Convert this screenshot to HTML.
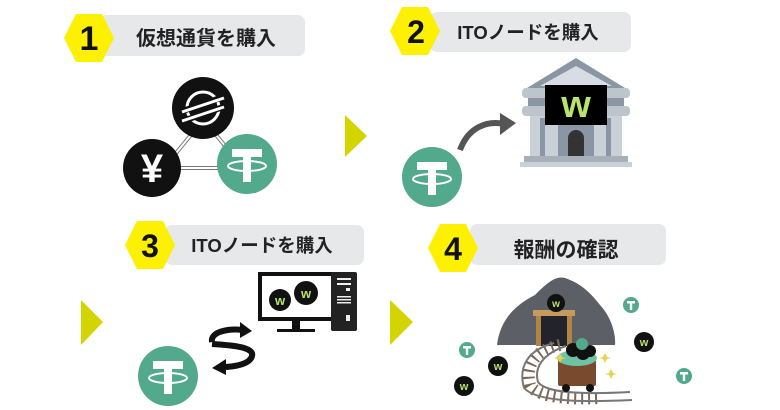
<!DOCTYPE html>
<html><head><meta charset="utf-8"><style>
html,body{margin:0;padding:0;background:#fff;}
svg{display:block;}
.t{font-family:"Liberation Sans","Noto Sans CJK JP",sans-serif;font-weight:bold;fill:#222;}
.n{font-family:"Liberation Sans",sans-serif;font-weight:900;fill:#111;}
.w{font-family:"Liberation Sans",sans-serif;font-weight:bold;fill:#b7e46a;}
</style></head><body>
<svg width="780" height="410" viewBox="0 0 780 410" xmlns="http://www.w3.org/2000/svg">
<defs>
<g id="teth">
<circle r="30" fill="#53a98b"/>
<rect x="-15" y="-15" width="30" height="8" fill="#fff"/>
<rect x="-4" y="-12" width="8" height="30" fill="#fff"/>
<ellipse cx="0" cy="2" rx="19" ry="5" fill="none" stroke="#fff" stroke-width="2"/>
</g>
<g id="tc">
<circle r="8" fill="#53a98b"/>
<rect x="-4" y="-4" width="8" height="2.5" fill="#fff"/>
<rect x="-1.2" y="-3" width="2.4" height="8" fill="#fff"/>
</g>
</defs>

<!-- Panel 1 -->
<rect x="100" y="15" width="205" height="41" rx="7" fill="#e7e8ea"/>
<polygon points="64,38 76,14 102,14 114,38 102,62 76,62" fill="#fdf000"/>
<text x="89" y="50" text-anchor="middle" class="n" font-size="34">1</text>
<text x="206" y="45" text-anchor="middle" class="t" font-size="20">仮想通貨を購入</text>
<g stroke="#777" stroke-width="4" fill="none"><line x1="195" y1="130" x2="172" y2="158"/><line x1="212" y1="130" x2="235" y2="158"/><line x1="176" y1="168" x2="222" y2="168"/></g>
<g stroke="#fff" stroke-width="2" fill="none"><line x1="195" y1="130" x2="172" y2="158"/><line x1="212" y1="130" x2="235" y2="158"/><line x1="176" y1="168" x2="222" y2="168"/></g>
<circle cx="203" cy="108" r="31" fill="#111"/>
<circle cx="203" cy="108" r="16" fill="none" stroke="#fff" stroke-width="3"/>
<g stroke="#111" stroke-width="6"><line x1="180" y1="112" x2="226" y2="96"/><line x1="180" y1="122" x2="226" y2="106"/></g>
<g stroke="#fff" stroke-width="3"><line x1="182" y1="112" x2="224" y2="98"/><line x1="182" y1="121" x2="224" y2="107"/></g>
<circle cx="152" cy="168" r="29" fill="#111"/>
<text x="152" y="182" text-anchor="middle" font-family="Liberation Sans,sans-serif" font-weight="900" font-size="40" fill="#fff">¥</text>
<use href="#teth" x="247" y="164"/>
<polygon points="345,115 367,136 345,157" fill="#d4d400"/>

<!-- Panel 2 -->
<rect x="430" y="12" width="201" height="40" rx="7" fill="#e7e8ea"/>
<polygon points="390,31 402,7 428,7 440,31 428,55 402,55" fill="#fdf000"/>
<text x="416" y="43" text-anchor="middle" class="n" font-size="32">2</text>
<text x="528" y="39" text-anchor="middle" class="t" font-size="18.5">ITOノードを購入</text>
<polygon points="576,58 527,88 625,88" fill="#8a96a3"/>
<polygon points="576,66 540,86 612,86" fill="#d7dde3"/>
<rect x="522" y="88" width="108" height="10" rx="4" fill="#bcc4cc"/>
<rect x="522" y="106" width="108" height="10" rx="4" fill="#bcc4cc"/>
<rect x="528" y="98" width="96" height="8" fill="#8a96a3"/>
<rect x="530" y="116" width="92" height="40" fill="#c9d0d7"/>
<g fill="#8a96a3"><rect x="540" y="118" width="5" height="38"/><rect x="606" y="118" width="5" height="38"/><rect x="558" y="118" width="5" height="38"/><rect x="589" y="118" width="5" height="38"/></g>
<rect x="563" y="124" width="26" height="32" fill="#8a96a3"/>
<path d="M568,156 V138 a8,8 0 0 1 16,0 V156 Z" fill="#333"/>
<rect x="524" y="156" width="104" height="6" fill="#a7b0b9"/>
<rect x="520" y="162" width="112" height="5" fill="#c9d0d7"/>
<rect x="545" y="85" width="62" height="40" fill="#000"/>
<text x="576" y="117" text-anchor="middle" font-family="Liberation Sans,sans-serif" font-weight="900" font-size="38" fill="#b7e46a">w</text>
<path d="M460,150 C468,128 486,120 505,124" fill="none" stroke="#555" stroke-width="6"/>
<polygon points="500,113 516,123 500,135" fill="#555"/>
<use href="#teth" x="432" y="177"/>

<!-- Panel 3 -->
<rect x="165" y="225" width="199" height="40" rx="7" fill="#e7e8ea"/>
<polygon points="125,245 137,221 163,221 175,245 163,269 137,269" fill="#fdf000"/>
<text x="150" y="257" text-anchor="middle" class="n" font-size="32">3</text>
<text x="262" y="252" text-anchor="middle" class="t" font-size="18.5">ITOノードを購入</text>
<polygon points="81,300 103,322 81,345" fill="#d4d400"/>
<rect x="258" y="272" width="78" height="49" fill="#111"/>
<rect x="262" y="276" width="70" height="41" fill="#fff"/>
<rect x="292" y="321" width="8" height="9" fill="#111"/>
<rect x="277" y="329" width="38" height="3" fill="#111"/>
<circle cx="280" cy="300" r="11" fill="#111"/><text x="280" y="305" text-anchor="middle" class="w" font-size="13">w</text>
<circle cx="306" cy="293" r="12" fill="#111"/><text x="306" y="298" text-anchor="middle" class="w" font-size="13">w</text>
<rect x="331" y="272" width="26" height="59" rx="2" fill="#222"/>
<g fill="#eee"><rect x="337" y="278" width="14" height="2"/><rect x="337" y="283" width="14" height="2"/><rect x="346" y="288" width="4" height="3"/><rect x="337" y="296" width="14" height="1.5"/><rect x="337" y="299" width="14" height="1.5"/><rect x="337" y="302" width="14" height="1.5"/><rect x="346" y="315" width="4" height="6"/></g>
<path d="M212,342 C210,332 228,328 243,330" fill="none" stroke="#111" stroke-width="6"/>
<polygon points="240,322 252,331 240,338" fill="#111"/>
<path d="M212,344 C225,345 255,346 252,356 C250,364 235,367 222,367" fill="none" stroke="#111" stroke-width="6"/>
<polygon points="226,359 212,368 226,375" fill="#111"/>
<use href="#teth" x="168" y="376"/>

<!-- Panel 4 -->
<rect x="470" y="224" width="196" height="41" rx="7" fill="#e7e8ea"/>
<polygon points="428,248 440,224 466,224 478,248 466,272 440,272" fill="#fdf000"/>
<text x="453" y="260" text-anchor="middle" class="n" font-size="32">4</text>
<text x="566" y="257" text-anchor="middle" class="t" font-size="21">報酬の確認</text>
<polygon points="390,300 413,322 390,345" fill="#d4d400"/>
<path d="M497,345 C500,320 515,305 535,295 C545,285 555,275 565,278 C580,283 590,292 600,305 C612,318 616,335 615,345 Z" fill="#5c5f66"/>
<rect x="533" y="310" width="42" height="6" fill="#c49a5e"/>
<rect x="536" y="316" width="5" height="30" fill="#b18548"/>
<rect x="567" y="316" width="5" height="30" fill="#b18548"/>
<rect x="541" y="316" width="26" height="30" fill="#23232b"/>
<path d="M560,345 C535,350 525,365 530,385 C535,395 560,400 600,398" fill="none" stroke="#7d6652" stroke-width="12" stroke-dasharray="2 5"/>
<path d="M554,343 C528,350 518,366 524,388 M566,346 C542,354 534,368 538,382 C545,392 575,395 630,392" fill="none" stroke="#777" stroke-width="2"/>
<path d="M524,388 C535,400 570,403 632,400" fill="none" stroke="#777" stroke-width="2"/>
<rect x="558" y="360" width="38" height="26" rx="2" fill="#7a4a2e"/>
<circle cx="566" cy="388" r="4" fill="#111"/><circle cx="590" cy="388" r="4" fill="#111"/>
<ellipse cx="577" cy="358" rx="20" ry="8" fill="#6fc3a5"/>
<circle cx="573" cy="350" r="7" fill="#111"/><circle cx="583" cy="353" r="7" fill="#111"/><circle cx="590" cy="351" r="6" fill="#111"/><circle cx="582" cy="344" r="6" fill="#53a98b"/>
<circle cx="556" cy="303" r="9" fill="#111"/><text x="556" y="307" text-anchor="middle" class="w" font-size="10">w</text>
<use href="#tc" x="631" y="305"/>
<use href="#tc" x="467" y="350"/>
<use href="#tc" x="684" y="376"/>
<g transform="translate(644,342)"><circle r="10" fill="#111"/><text y="4" text-anchor="middle" class="w" font-size="11">w</text></g>
<g transform="translate(498,366)"><circle r="10" fill="#111"/><text y="4" text-anchor="middle" class="w" font-size="11">w</text></g>
<g transform="translate(464,386)"><circle r="10" fill="#111"/><text y="4" text-anchor="middle" class="w" font-size="11">w</text></g>
<g fill="#e8d24a"><polygon points="560,353 562,357 566,358 562,359 560,363 558,359 554,358 558,357"/><polygon points="605,353 607,357 611,358 607,359 605,363 603,359 599,358 603,357"/><polygon points="611,369 613,373 617,374 613,375 611,379 609,375 605,374 609,373"/></g>
</svg>
</body></html>
